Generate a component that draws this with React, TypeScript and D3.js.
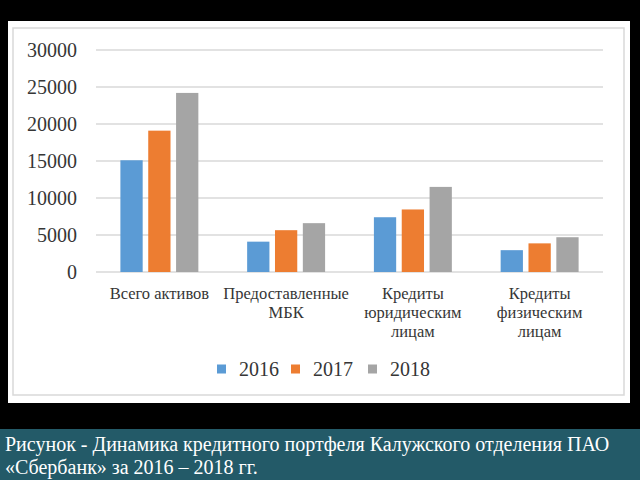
import React from "react";
import * as d3 from "d3";

const categories: string[][] = [
  ["Всего активов"],
  ["Предоставленные", "МБК"],
  ["Кредиты", "юридическим", "лицам"],
  ["Кредиты", "физическим", "лицам"],
];
const series = ["2016", "2017", "2018"];
const values2016 = [15100, 4100, 7400, 2950];
const values2017 = [19100, 5650, 8450, 3870];
const values2018 = [24200, 6600, 11500, 4700];
const yTicks = [0, 5000, 10000, 15000, 20000, 25000, 30000];
const caption1 = "Рисунок - Динамика кредитного портфеля Калужского отделения ПАО";
const caption2 = "«Сбербанк» за 2016 – 2018 гг.";

const colors = ["#5B9BD5", "#ED7D31", "#A5A5A5"];
const seriesValues = [values2016, values2017, values2018];

export default function App() {
  const W = 640, H = 480;
  const x0 = d3.scaleBand<number>().domain(categories.map((_, i) => i)).range([96, 603]).paddingInner(0.385).paddingOuter(0.1925);
  const x1 = d3.scaleBand<number>().domain(series.map((_, i) => i)).range([0, x0.bandwidth()]).paddingInner(0.2);
  const y = d3.scaleLinear().domain([0, 30000]).range([272, 50]);
  const serif = "'Liberation Serif', 'Times New Roman', serif";
  const legendX = [217, 291, 368];
  return (
    <svg width={W} height={H} style={{ position: "absolute", left: 0, top: 0, display: "block" }} xmlns="http://www.w3.org/2000/svg">
      <rect x={0} y={0} width={W} height={H} fill="#000" />
      <rect x={8} y={21} width={622} height={382} fill="#fff" />
      <rect x={13} y={28} width={611} height={367} fill="none" stroke="#D9D9D9" strokeWidth={1.5} />
      {yTicks.map((t) => (
        <g key={t}>
          <line x1={96} x2={603} y1={y(t)} y2={y(t)} stroke="#D9D9D9" strokeWidth={1.5} />
          <text x={77} y={y(t)} dy="0.35em" textAnchor="end" fontFamily={serif} fontSize={20} fill="#363636">{t}</text>
        </g>
      ))}
      {categories.map((_, ci) => (
        <g key={ci} transform={`translate(${x0(ci)},0)`}>
          {seriesValues.map((vals, si) => (
            <rect key={si} x={x1(si)} y={y(vals[ci])} width={x1.bandwidth()} height={y(0) - y(vals[ci])} fill={colors[si]} />
          ))}
        </g>
      ))}
      {categories.map((lines, ci) => (
        <text key={ci} textAnchor="middle" fontFamily={serif} fontSize={16.5} fill="#363636">
          {lines.map((ln, li) => (
            <tspan key={li} x={(x0(ci) as number) + x0.bandwidth() / 2} y={293 + li * 19} dy="0.35em">{ln}</tspan>
          ))}
        </text>
      ))}
      {series.map((s, si) => (
        <g key={s}>
          <rect x={legendX[si]} y={364.5} width={9} height={9} fill={colors[si]} />
          <text x={legendX[si] + 22} y={369} dy="0.35em" fontFamily={serif} fontSize={20} fill="#363636">{s}</text>
        </g>
      ))}
      <rect x={0} y={429} width={W} height={51} fill="#235A68" />
      <text x={5} y={444} dy="0.35em" fontFamily={serif} fontSize={20} fill="#fff">{caption1}</text>
      <text x={5} y={467} dy="0.35em" fontFamily={serif} fontSize={20} fill="#fff">{caption2}</text>
    </svg>
  );
}
